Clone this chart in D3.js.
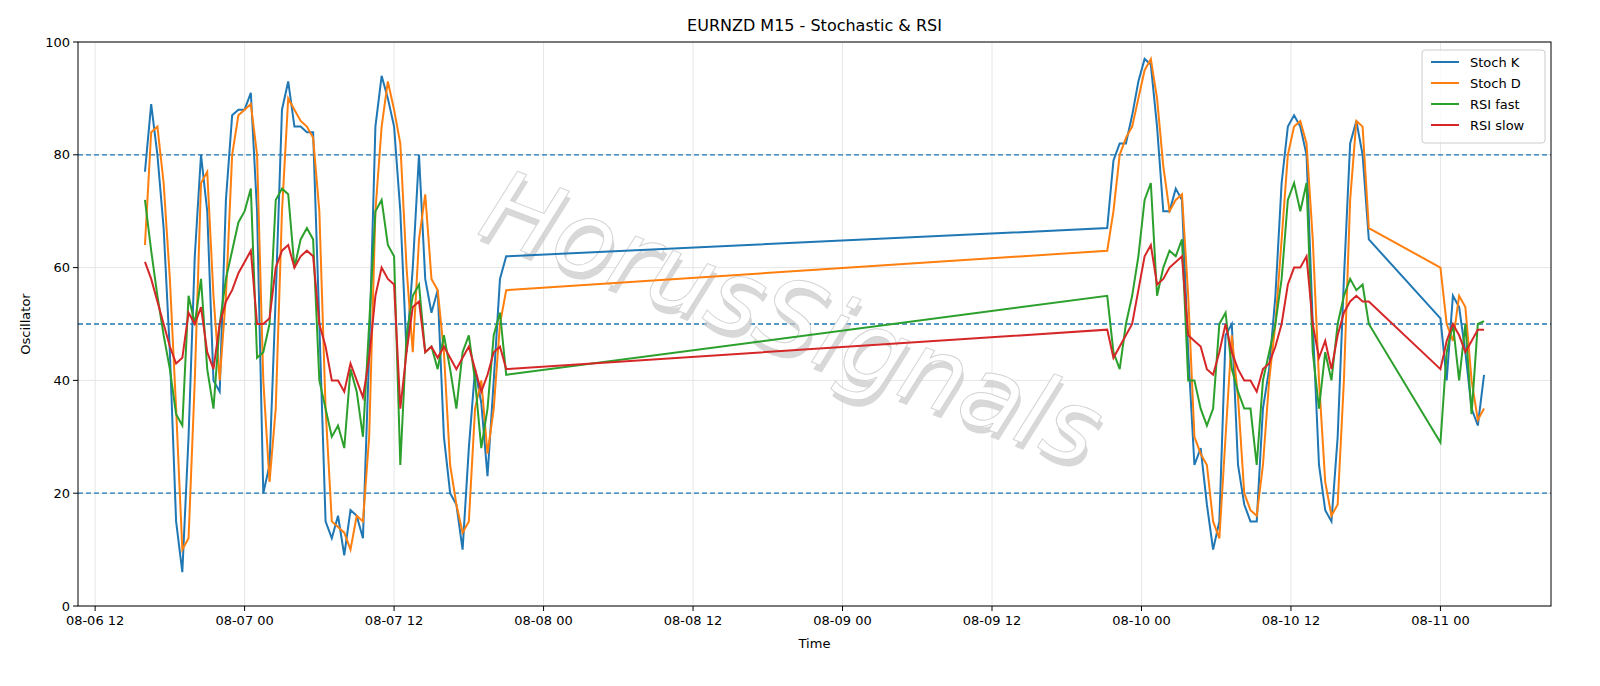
<!DOCTYPE html>
<html><head><meta charset="utf-8">
<script src="https://cdn.jsdelivr.net/npm/d3@7"></script>
<style>body{margin:0;background:#fff}svg{font-family:"DejaVu Sans",sans-serif}</style>
</head><body><svg id="c" width="1600" height="686"></svg>
<script>
// segment start times and 30-min steps
const segStarts = ["2024-08-06T16:00", "2024-08-09T21:15", "2024-08-11T00:00"];
const stochK = [
 [77,89,80,67,45,15,6,30,62,80,70,40,38,72,87,88,88,91,70,20,25,55,88,93,85,85,84,84,50,15,12,16,9,17,16,12,45,85,94,90,85,70,45,60,80,58,52,56,30,20,18,10,28,42,36,23,40,58,62],
 [67,79,82,82,87,93,97,96,85,70,70,74,72,45,25,28,18,10,15,48,50,25,18,15,15,35,42,55,75,85,87,85,80,50,25,17,15,30,58,82,86,80,65],
 [51,40,55,53,45,35,32,41]];
const stochD = [
 [64,84,85,75,58,35,10,12,40,75,77,55,40,55,80,87,88,89,80,40,22,35,70,90,88,86,85,83,70,35,15,14,13,10,16,15,30,70,85,93,88,82,60,45,65,73,58,56,45,25,18,13,15,35,40,27,35,50,56],
 [63,70,80,83,85,90,95,97,90,78,70,72,73,55,30,27,25,15,12,30,48,37,20,17,16,25,40,50,65,80,85,86,82,65,40,22,16,18,40,72,86,85,67],
 [60,50,47,55,53,40,33,35]];
const rsiFast = [
 [72,63,55,48,42,34,32,55,50,58,42,35,50,58,63,68,70,74,44,45,50,72,74,73,60,65,67,65,40,35,30,32,28,42,38,30,50,70,72,64,62,25,48,55,57,45,46,42,48,42,35,45,48,40,28,35,48,52,41],
 [55,45,42,50,55,62,72,75,55,60,63,62,65,40,40,35,32,35,50,52,42,38,35,35,25,40,45,50,58,72,75,70,75,45,35,45,40,50,55,58,56,57,50],
 [29,45,50,40,50,34,50,50.5]];
const rsiSlow = [
 [61,58,54,50,46,43,44,52,50,53,45,42,50,54,56,59,61,63,50,50,51,60,63,64,60,62,63,62,50,46,40,40,38,43,40,37,44,55,60,58,57,35,45,53,54,45,46,44,46,44,42,44,46,42,38,41,45,46,42],
 [49,44,46,48,50,56,62,64,57,58,60,61,62,48,47,46,42,41,45,50,45,42,40,40,38,42,43,46,50,57,60,60,62,50,44,47,42,48,52,54,55,54,54],
 [42,47,50,48,45,47,49,49]];
const seriesNames = ["Stoch K","Stoch D","RSI fast","RSI slow"];
const colors = ["#1f77b4","#ff7f0e","#2ca02c","#d62728"];
const yTicks = [0,20,40,60,80,100];
const levels = [20,50,80];

const parse = d3.timeParse("%Y-%m-%dT%H:%M");
function build(arr){const out=[];arr.forEach((seg,s)=>{const t0=parse(segStarts[s]);seg.forEach((v,i)=>out.push({t:new Date(+t0+i*1800000),v}));});return out;}
const all=[stochK,stochD,rsiFast,rsiSlow].map(build);

const svg=d3.select("#c");
const L=78,R=1551,T=42,B=606;
const ext=d3.extent(all[0],d=>d.t);const pad=(ext[1]-ext[0])*0.05;
const x=d3.scaleTime().domain([new Date(+ext[0]-pad),new Date(+ext[1]+pad)]).range([L,R]);
const y=d3.scaleLinear().domain([0,100]).range([B,T]);
const xTicks=d3.timeHour.every(12).range(new Date(+ext[0]-pad),new Date(+ext[1]+pad));
const fmt=d3.timeFormat("%m-%d %H");

const g=svg.append("g");
xTicks.forEach(t=>g.append("line").attr("x1",x(t)).attr("x2",x(t)).attr("y1",T).attr("y2",B).attr("stroke","#e6e6e6").attr("stroke-width",1));
yTicks.forEach(v=>g.append("line").attr("x1",L).attr("x2",R).attr("y1",y(v)).attr("y2",y(v)).attr("stroke","#e6e6e6"));
levels.forEach(v=>g.append("line").attr("x1",L).attr("x2",R).attr("y1",y(v)).attr("y2",y(v)).attr("stroke","#1f77b4").attr("stroke-width",1.3).attr("stroke-dasharray","5,3"));

// watermark
const wm=svg.append("g").attr("transform","translate(780,350) rotate(21)");
wm.append("text").attr("x",4).attr("y",6).attr("text-anchor","middle").attr("font-size",100).attr("fill","#c8c8c8").attr("fill-opacity",0.7).attr("font-style","italic").text("HorusSignals");
wm.append("text").attr("text-anchor","middle").attr("font-size",100).attr("fill","#fff").attr("stroke","#d4d4d4").attr("stroke-width",1).attr("font-style","italic").text("HorusSignals");

const line=d3.line().x(d=>x(d.t)).y(d=>y(d.v));
all.forEach((d,i)=>svg.append("path").datum(d).attr("d",line).attr("fill","none").attr("stroke",colors[i]).attr("stroke-width",2));

svg.append("rect").attr("x",L).attr("y",T).attr("width",R-L).attr("height",B-T).attr("fill","none").attr("stroke","#000").attr("stroke-width",1);
xTicks.forEach(t=>{svg.append("line").attr("x1",x(t)).attr("x2",x(t)).attr("y1",B).attr("y2",B+5).attr("stroke","#000");
 svg.append("text").attr("x",x(t)).attr("y",B+19).attr("text-anchor","middle").attr("font-size",13).text(fmt(t));});
yTicks.forEach(v=>{svg.append("line").attr("x1",L-5).attr("x2",L).attr("y1",y(v)).attr("y2",y(v)).attr("stroke","#000");
 svg.append("text").attr("x",L-8).attr("y",y(v)+4.5).attr("text-anchor","end").attr("font-size",13).text(v);});
svg.append("text").attr("x",(L+R)/2).attr("y",31).attr("text-anchor","middle").attr("font-size",16).text("EURNZD M15 - Stochastic & RSI");
svg.append("text").attr("x",(L+R)/2).attr("y",648).attr("text-anchor","middle").attr("font-size",13).text("Time");
svg.append("text").attr("transform",`translate(30,${(T+B)/2}) rotate(-90)`).attr("text-anchor","middle").attr("font-size",13).text("Oscillator");

const lg=svg.append("g").attr("transform","translate(1422,50)");
lg.append("rect").attr("width",123).attr("height",93).attr("rx",3).attr("fill","#fff").attr("fill-opacity",0.8).attr("stroke","#ccc");
seriesNames.forEach((n,i)=>{lg.append("line").attr("x1",9).attr("x2",37).attr("y1",12+i*21).attr("y2",12+i*21).attr("stroke",colors[i]).attr("stroke-width",2);
 lg.append("text").attr("x",48).attr("y",17+i*21).attr("font-size",13).text(n);});
</script></body></html>
